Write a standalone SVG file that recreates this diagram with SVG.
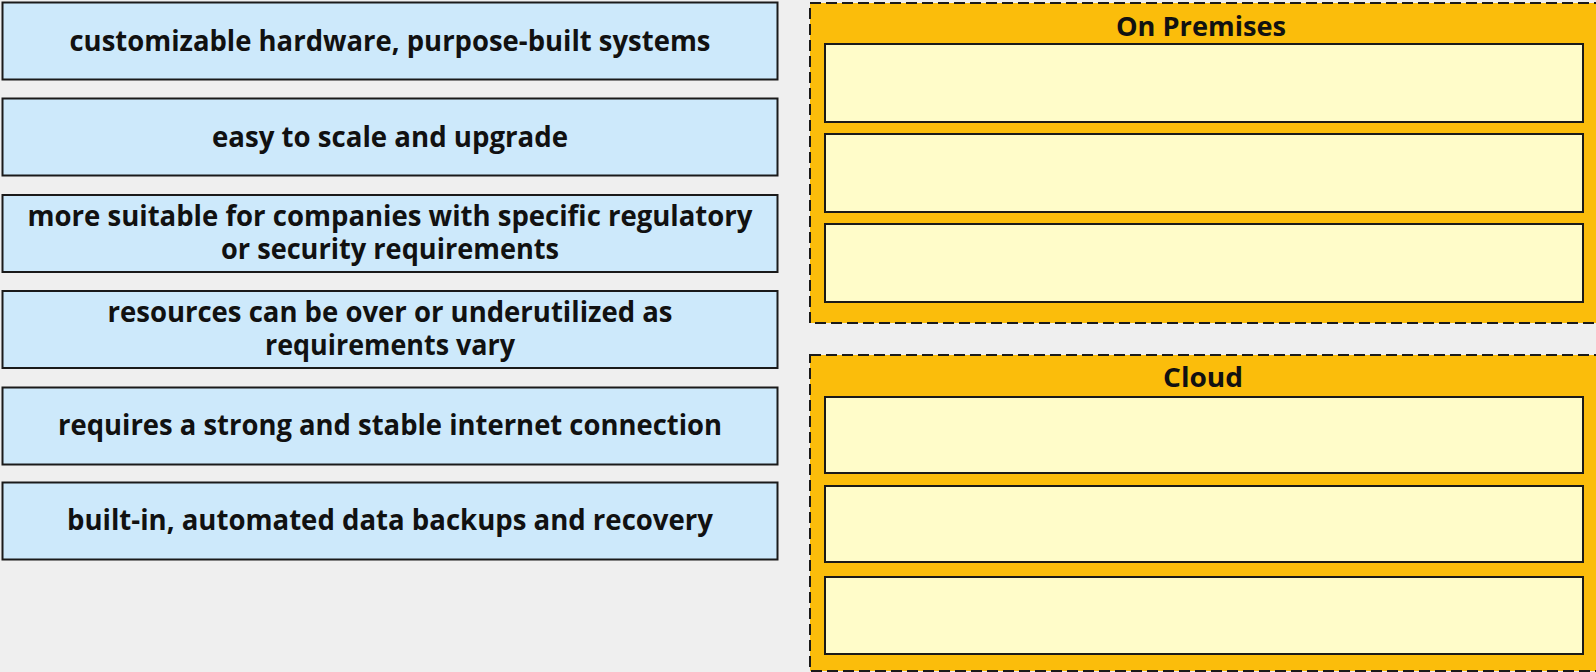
<svg xmlns="http://www.w3.org/2000/svg" width="1596" height="672" viewBox="0 0 1596 672">
  <style>
    .item rect { fill: #cde9fb; stroke: #1a1a1a; stroke-width: 2; }
    .slot { fill: #fffcc9; stroke: #1a1a1a; stroke-width: 2; }
    .zone { fill: #fbbd0b; stroke: #1a1a1a; stroke-width: 2; stroke-dasharray: 11 5; }
    .t { font-family: "Open Sans", "Noto Sans", "Liberation Sans", sans-serif; font-weight: 700; font-size: 29px; fill: #111111; text-anchor: middle; }
    .h { font-family: "Open Sans", "Noto Sans", "Liberation Sans", sans-serif; font-weight: 700; font-size: 26px; fill: #111111; text-anchor: middle; }
  </style>
  <rect x="0" y="0" width="1596" height="672" fill="#efefef"/>

  <g id="item1" class="item">
    <rect x="2.5" y="2.5" width="775" height="77"/>
    <text class="t" x="390" y="50.5" textLength="641" lengthAdjust="spacingAndGlyphs">customizable hardware, purpose-built systems</text>
  </g>
  <g id="item2" class="item">
    <rect x="2.5" y="98.5" width="775" height="77"/>
    <text class="t" x="390" y="147" textLength="356" lengthAdjust="spacingAndGlyphs">easy to scale and upgrade</text>
  </g>
  <g id="item3" class="item">
    <rect x="2.5" y="195" width="775" height="77"/>
    <text class="t"><tspan x="390" y="226" textLength="725" lengthAdjust="spacingAndGlyphs">more suitable for companies with specific regulatory</tspan><tspan x="390" y="259" textLength="338" lengthAdjust="spacingAndGlyphs">or security requirements</tspan></text>
  </g>
  <g id="item4" class="item">
    <rect x="2.5" y="291" width="775" height="77"/>
    <text class="t"><tspan x="390" y="322" textLength="565" lengthAdjust="spacingAndGlyphs">resources can be over or underutilized as</tspan><tspan x="390" y="355" textLength="250" lengthAdjust="spacingAndGlyphs">requirements vary</tspan></text>
  </g>
  <g id="item5" class="item">
    <rect x="2.5" y="387.5" width="775" height="77"/>
    <text class="t" x="390" y="435" textLength="664" lengthAdjust="spacingAndGlyphs">requires a strong and stable internet connection</text>
  </g>
  <g id="item6" class="item">
    <rect x="2.5" y="482.5" width="775" height="77"/>
    <text class="t" x="390" y="530" textLength="646" lengthAdjust="spacingAndGlyphs">built-in, automated data backups and recovery</text>
  </g>

  <g id="on-premises">
    <rect class="zone" x="810" y="3" width="800" height="320"/>
    <text class="h" x="1201" y="35.5" textLength="170" lengthAdjust="spacingAndGlyphs">On Premises</text>
    <rect class="slot" x="825" y="44" width="758" height="78"/>
    <rect class="slot" x="825" y="134" width="758" height="78"/>
    <rect class="slot" x="825" y="224" width="758" height="78"/>
  </g>

  <g id="cloud">
    <rect class="zone" x="810" y="355" width="800" height="316"/>
    <text class="h" x="1203" y="386.5" textLength="80" lengthAdjust="spacingAndGlyphs">Cloud</text>
    <rect class="slot" x="825" y="397" width="758" height="76"/>
    <rect class="slot" x="825" y="486" width="758" height="76"/>
    <rect class="slot" x="825" y="577" width="758" height="77"/>
  </g>

  <g id="connectors"></g>
</svg>
